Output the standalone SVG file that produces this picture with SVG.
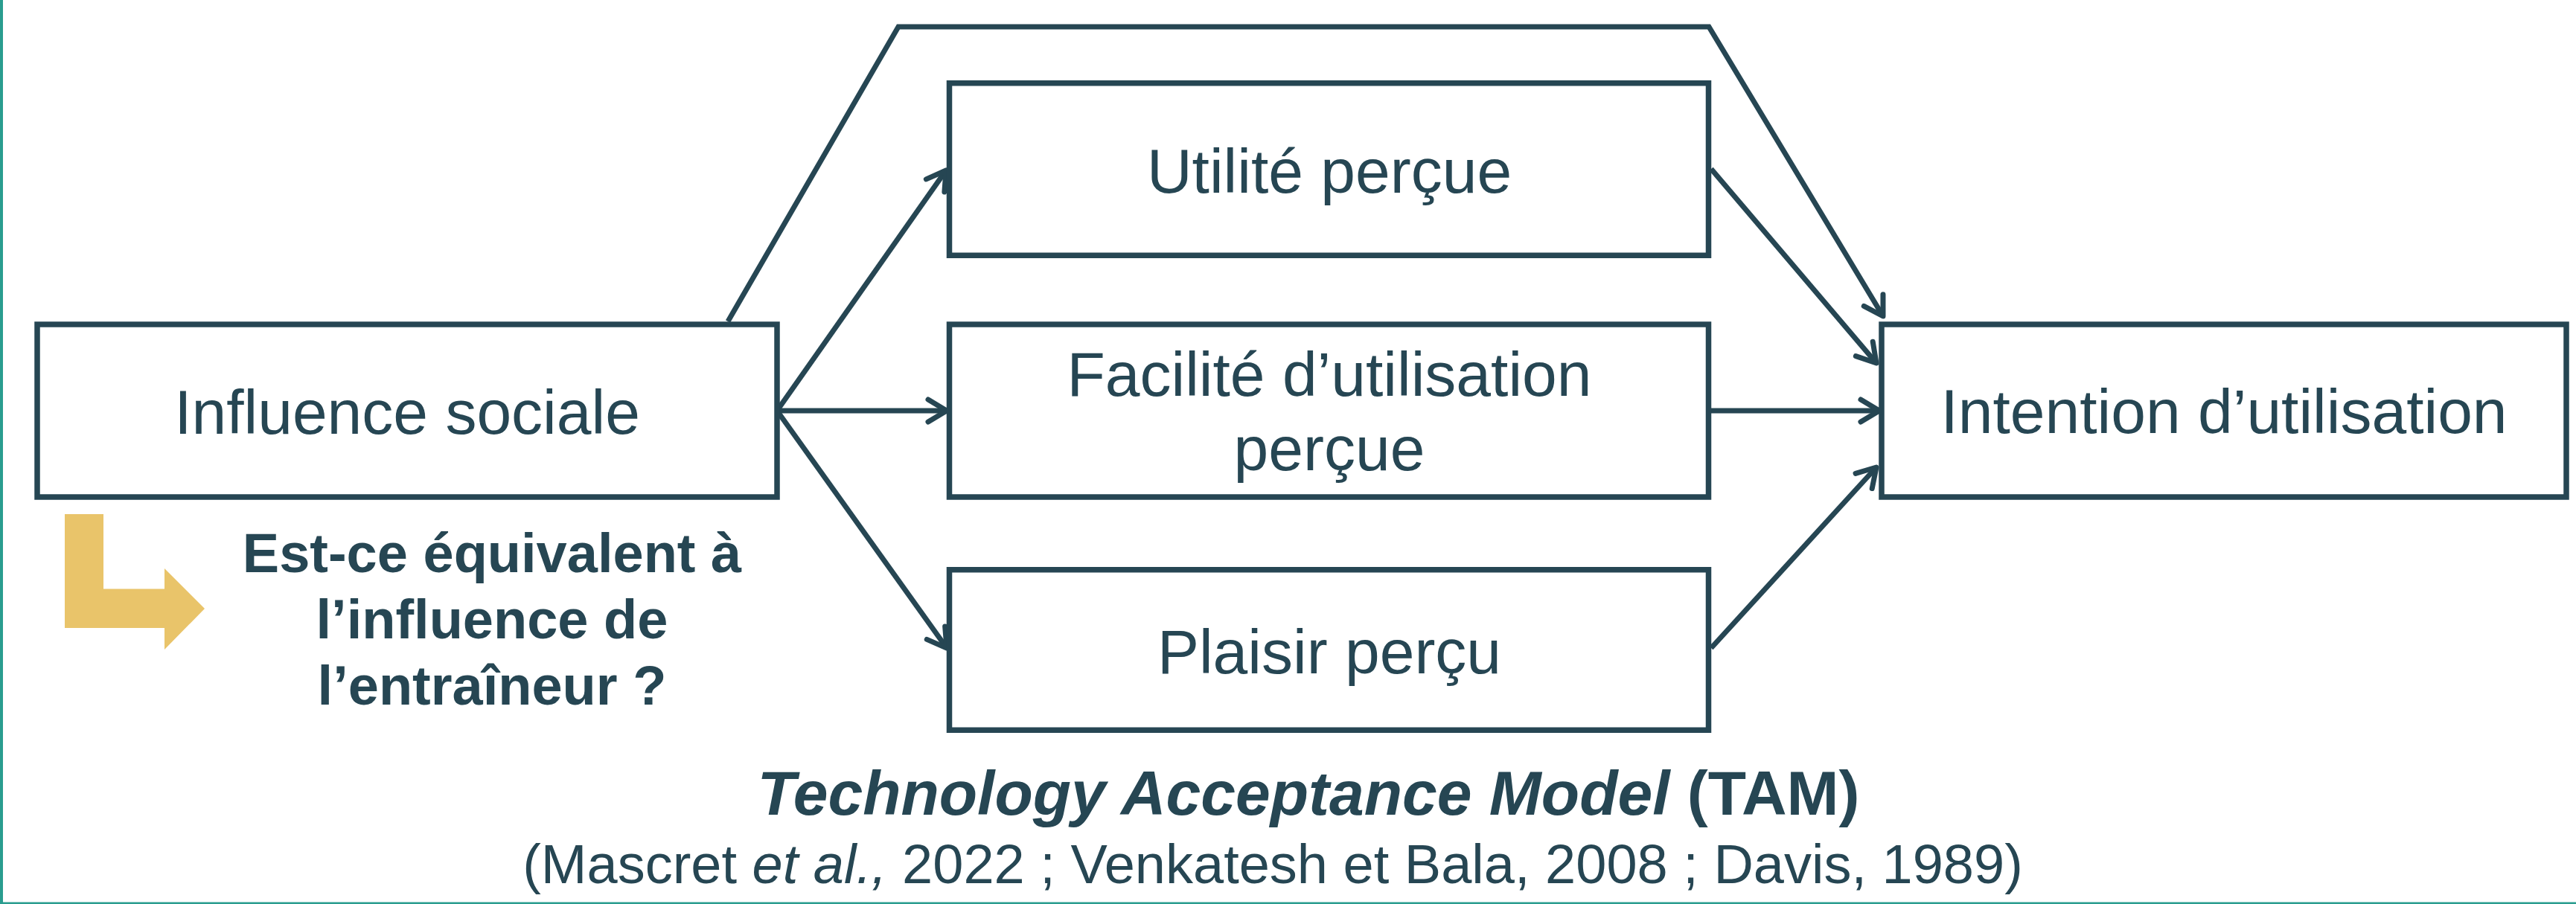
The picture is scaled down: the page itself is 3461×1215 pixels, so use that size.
<svg xmlns="http://www.w3.org/2000/svg" width="3461" height="1215" viewBox="0 0 3461 1215">
<style>
.box{fill:#ffffff;stroke:#264653;stroke-width:7.5}
.t{font-family:"Liberation Sans",Arial,sans-serif;fill:#264653;text-anchor:middle}
.n{font-size:84px}
.q{font-size:74px;font-weight:bold}
.c{fill:none;stroke:#264653;stroke-width:7;stroke-linejoin:miter}
</style>
<defs>
<marker id="ah" markerUnits="userSpaceOnUse" markerWidth="46" markerHeight="46" viewBox="0 0 46 46" refX="39" refY="23" orient="auto">
<path d="M14,8 L39,23 L14,38" fill="none" stroke="#264653" stroke-width="7" stroke-linecap="round" stroke-linejoin="round"/>
</marker>
</defs>
<rect x="0" y="0" width="3461" height="1215" fill="#ffffff"/>
<rect x="0" y="0" width="4" height="1215" fill="#2a9d8f"/>
<rect x="0" y="1212.5" width="3461" height="2.5" fill="#2a9d8f"/>
<g id="connectors">
<polyline class="c" points="978,432 1207,36 2296,36 2530,425" marker-end="url(#ah)"/>
<line class="c" x1="1044" y1="552" x2="1271" y2="229" marker-end="url(#ah)"/>
<line class="c" x1="1044" y1="552" x2="1272" y2="552" marker-end="url(#ah)"/>
<line class="c" x1="1044" y1="552" x2="1272" y2="871" marker-end="url(#ah)"/>
<line class="c" x1="2299" y1="227" x2="2521" y2="488" marker-end="url(#ah)"/>
<line class="c" x1="2299" y1="552" x2="2525" y2="552" marker-end="url(#ah)"/>
<line class="c" x1="2299" y1="871" x2="2521" y2="628" marker-end="url(#ah)"/>
</g>
<g id="influence">
<rect class="box" x="50" y="436" width="994" height="232"/>
<text class="t n" x="547" y="583">Influence sociale</text>
</g>
<g id="utilite">
<rect class="box" x="1275.5" y="111.75" width="1020" height="231.5"/>
<text class="t n" x="1786" y="259">Utilité perçue</text>
</g>
<g id="facilite">
<rect class="box" x="1275.5" y="436" width="1020" height="232"/>
<text class="t n" x="1786" y="532">Facilité d’utilisation</text>
<text class="t n" x="1786" y="632">perçue</text>
</g>
<g id="plaisir">
<rect class="box" x="1275.5" y="765.75" width="1020" height="215.5"/>
<text class="t n" x="1786" y="905">Plaisir perçu</text>
</g>
<g id="intention">
<rect class="box" x="2528" y="436" width="920" height="232"/>
<text class="t n" x="2988" y="582">Intention d’utilisation</text>
</g>
<g id="question">
<polygon points="87,691 139,691 139,791.5 221,791.5 221,764 275,818 221,873 221,844 87,844" fill="#e9c46a"/>
<text class="t q" x="661" y="769">Est-ce équivalent à</text>
<text class="t q" x="661" y="858">l’influence de</text>
<text class="t q" x="661" y="947">l’entraîneur ?</text>
</g>
<g id="caption">
<text class="t" x="1758" y="1095" font-size="84" font-weight="bold"><tspan font-style="italic">Technology Acceptance Model</tspan> (TAM)</text>
<text class="t" x="1710" y="1187" font-size="74">(Mascret <tspan font-style="italic">et al.,</tspan> 2022 ; Venkatesh et Bala, 2008 ; Davis, 1989)</text>
</g>
</svg>
